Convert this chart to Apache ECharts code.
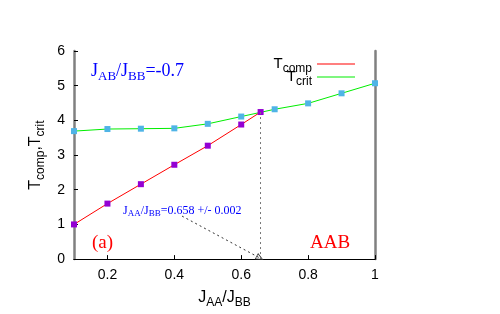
<!DOCTYPE html>
<html><head><meta charset="utf-8">
<script src="https://cdn.jsdelivr.net/npm/echarts@6/dist/echarts.min.js"></script>
<style>html,body{margin:0;padding:0;background:#fff}#c{width:500px;height:314px}</style>
</head><body><div id="c"></div>
<script>
// Data
const compX = [0.1, 0.2, 0.3, 0.4, 0.5, 0.6, 0.658];
const tComp = [1.00, 1.60, 2.16, 2.72, 3.27, 3.88, 4.24];
const critX = [0.1, 0.2, 0.3, 0.4, 0.5, 0.6, 0.7, 0.8, 0.9, 1.0];
const tCrit = [3.69, 3.75, 3.76, 3.77, 3.90, 4.11, 4.32, 4.49, 4.78, 5.07];
const xTicks = [0.2, 0.4, 0.6, 0.8, 1];
const crossing = [0.658, 4.24];
const arrowFrom = [0.423, 1.24];
const arrowTo = [0.656, 0.03];

const SANS = '"Liberation Sans", Arial, sans-serif';
const SERIF = '"Liberation Serif", "Times New Roman", serif';

function subRich(main, sub, drop, family, color) {
  return {
    m: {fontSize: main, fontFamily: family, color: color, fill: color, lineHeight: main + 4},
    s: {fontSize: sub, fontFamily: family, color: color, fill: color, lineHeight: main + 4, padding: [drop, 0, 0, 0]}
  };
}

const chart = echarts.init(document.getElementById('c'), null, {renderer: 'canvas'});
chart.setOption({
  animation: false,
  backgroundColor: '#fff',
  grid: {left: 74, right: 125, top: 51, bottom: 53, containLabel: false},
  legend: {
    data: [{name: 'Tcomp', itemStyle: {color: '#ff0000'}}, {name: 'Tcrit', itemStyle: {color: '#00ee00'}}],
    orient: 'vertical', right: 140, top: 48, align: 'right',
    icon: 'rect', itemWidth: 38, itemHeight: 1, itemGap: -9,
    selectedMode: false,
    formatter: n => n === 'Tcomp' ? '{m|T}{s|comp}' : '{m|T}{s|crit}',
    textStyle: {rich: subRich(15, 12, 10, SANS, '#000')}
  },
  xAxis: [{
    type: 'value', min: 0.1, max: 1, interval: 0.1, position: 'bottom',
    name: '{m|J}{s|AA}{m|/J}{s|BB}', nameLocation: 'middle', nameGap: 28,
    nameTextStyle: {rich: subRich(16, 12, 10, SANS, '#000')},
    axisLine: {lineStyle: {color: '#000', width: 1}},
    axisTick: {inside: true, length: 4, customValues: xTicks, lineStyle: {color: '#000'}},
    axisLabel: {customValues: xTicks, margin: 9, fontSize: 14, fontFamily: SANS, color: '#000',
      formatter: v => (v === 1 ? '1' : v.toFixed(1))},
    splitLine: {show: false}
  }, {
    type: 'value', min: 0.1, max: 1, position: 'top',
    axisLine: {show: true, lineStyle: {color: '#000', width: 1}},
    axisTick: {show: false}, axisLabel: {show: false}, splitLine: {show: false}
  }],
  yAxis: [{
    type: 'value', min: 0, max: 6, interval: 1, position: 'left',
    name: '{m|T}{s|comp}{m|,T}{s|crit}', nameLocation: 'middle', nameGap: 28, nameRotate: 90,
    nameTextStyle: {rich: subRich(16, 12, 10, SANS, '#000')},
    axisLine: {show: true, lineStyle: {color: '#808080', width: 2.5}},
    axisTick: {inside: true, length: 4, lineStyle: {color: '#000'}},
    axisLabel: {margin: 9, fontSize: 14, fontFamily: SANS, color: '#000'},
    splitLine: {show: false}
  }, {
    type: 'value', min: 0, max: 6, interval: 1, position: 'right',
    axisLine: {show: true, lineStyle: {color: '#808080', width: 2.5}},
    axisTick: {show: false}, axisLabel: {show: false}, splitLine: {show: false}
  }],
  series: [{
    name: 'Tcrit', type: 'line', z: 2,
    data: critX.map((x, i) => [x, tCrit[i]]),
    symbol: 'rect', symbolSize: 6,
    itemStyle: {color: '#4fb4e6'},
    lineStyle: {color: '#00ee00', width: 1},
    emphasis: {disabled: true},
    markLine: {
      silent: true,
      symbol: ['none', 'path://M0,0 L6,12 L-6,12 Z M0,3 L-4,11 L4,11 Z'], symbolSize: [7, 8],
      label: {show: false},
      lineStyle: {color: '#333', type: [2, 3], width: 1},
      data: [[{coord: arrowFrom}, {coord: arrowTo}]]
    }
  }, {
    name: 'Tcomp', type: 'line', z: 3,
    data: compX.map((x, i) => [x, tComp[i]]),
    symbol: 'rect', symbolSize: 6,
    itemStyle: {color: '#9400d3'},
    lineStyle: {color: '#ff0000', width: 1},
    emphasis: {disabled: true},
    markLine: {
      silent: true, symbol: 'none', label: {show: false},
      lineStyle: {color: '#777', type: [2, 3], width: 1},
      data: [[{coord: crossing}, {coord: [crossing[0], 0]}]]
    }
  }],
  graphic: [
    {type: 'text', left: 91, top: 60, style: {text: '{m|J}{s|AB}{m|/J}{s|BB}{m|=-0.7}', rich: subRich(18, 13, 10, SERIF, '#0000ff')}},
    {type: 'text', left: 123, top: 203, style: {text: '{m|J}{s|AA}{m|/J}{s|BB}{m|=0.658 +/- 0.002}', rich: subRich(12, 9, 6, SERIF, '#0000ff')}},
    {type: 'text', left: 92, top: 234, style: {text: '(a)', font: '19px ' + SERIF, fill: '#ff0000'}},
    {type: 'text', left: 310, top: 234, style: {text: 'AAB', font: '19px ' + SERIF, fill: '#ff0000'}}
  ]
});
</script></body></html>
